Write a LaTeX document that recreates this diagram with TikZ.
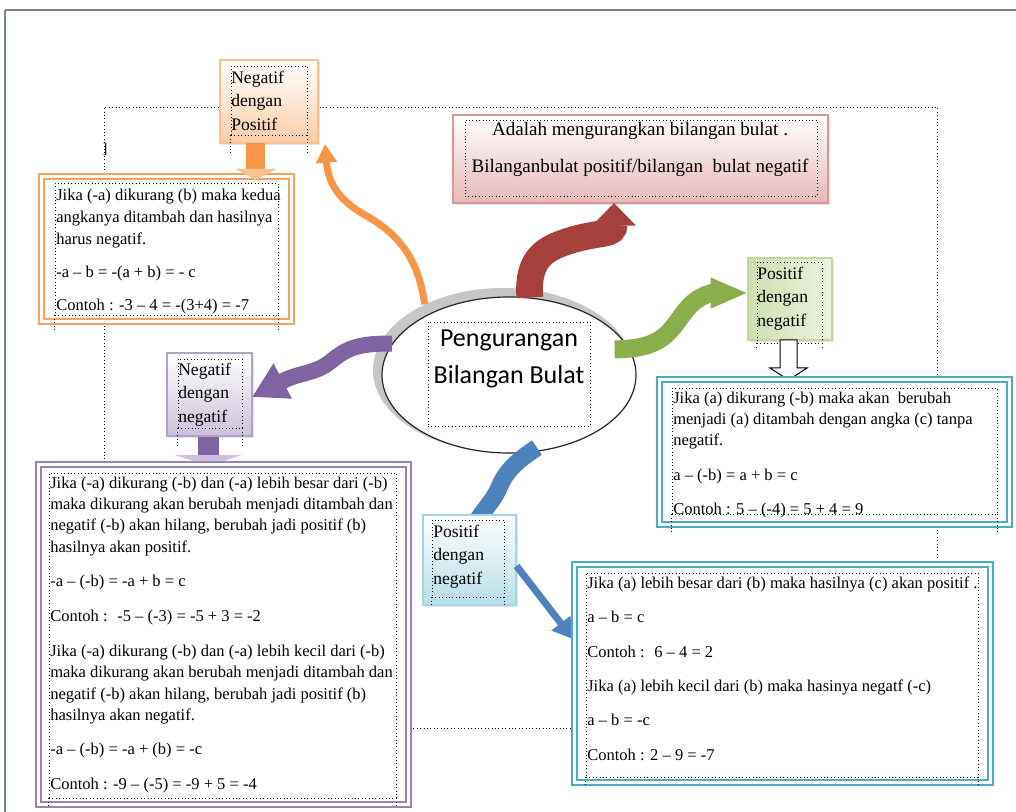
\documentclass[tikz,border=0pt]{standalone}
\usepackage{fontspec}
\setmainfont{Liberation Serif}
\newfontfamily\calib{Carlito}
\usetikzlibrary{calc,fit,arrows.meta,shadows,shapes.geometric}
\definecolor{orA}{HTML}{F79646}
\definecolor{orL}{HTML}{FAC090}
\definecolor{orD}{HTML}{F8A15A}
\definecolor{pkB}{HTML}{D99694}
\definecolor{pkF}{HTML}{E6B9B8}
\definecolor{rdA}{HTML}{A5403D}
\definecolor{gnA}{HTML}{8AAE4C}
\definecolor{gnF}{HTML}{CFDFB0}
\definecolor{gnB}{HTML}{C3D69B}
\definecolor{tlA}{HTML}{4BACC6}
\definecolor{lbF}{HTML}{B7DEE8}
\definecolor{lbB}{HTML}{A5D5E2}
\definecolor{blA}{HTML}{4F81BD}
\definecolor{puA}{HTML}{8064A2}
\definecolor{puL}{HTML}{9983B5}
\definecolor{puF}{HTML}{CCC1DA}
\definecolor{puB}{HTML}{B3A2C7}
\definecolor{frG}{HTML}{7F7F7F}
\definecolor{frB}{HTML}{6F86A8}
\begin{document}
\begin{tikzpicture}[x=0.75pt,y=-0.75pt,
  lblbox/.style={inner sep=0, line width=0.9pt, drop shadow={shadow xshift=1.2pt, shadow yshift=-1.2pt, opacity=0.2}},
  dblbox/.style={inner sep=0, fill=white, double, double distance=2.2pt, line width=1.5pt},
  dotbox/.style={inner sep=0, draw=black, dotted, line width=0.55pt},
  body/.style={anchor=north west, align=left, inner sep=0, font=\fontsize{12.4}{16}\selectfont},
  lbl/.style={anchor=north west, align=left, inner sep=0, font=\fontsize{13.2}{17.6}\selectfont},
  ext/.style={dotted, line width=0.55pt}]
\useasboundingbox (0,0) rectangle (1016,812);
\fill[white] (0,0) rectangle (1016,812);
% page frame
\draw[frG, line width=1.5pt] (5,10) -- (1016,10);
\draw[frB, line width=1.5pt] (5,10) -- (5,812);
% large dotted frame
\node[fit={(104,107) (937,728)}, dotbox] (frame) {};
\node[inner sep=0, font=\fontsize{11}{11}\selectfont] (brk) at (105,149) {]};

% central ellipse
\node[ellipse, fill=gray!45, minimum width=195pt, minimum height=123pt, inner sep=0] (ellsh) at (503,370) {};
% orange curved arrow (behind the ellipse)
\coordinate (otip) at (325,144);
\draw[orA, line width=5.25pt, -{Triangle[length=14pt, width=15pt]}] (ellsh.140) .. controls (418,255) and (395,232) .. (365,215) .. controls (338,200) and (328,182) .. (otip);
\node[ellipse, draw=black!85, line width=0.9pt, fill=white, minimum width=190.5pt, minimum height=117pt, inner sep=0] (ell) at (509,375) {};
\node[fit={(428,322) (590,426)}, dotbox] (ctb) {};
\node[inner sep=0, align=center, font=\calib\fontsize{19.5}{27.75}\selectfont, anchor=north] (ctxt) at (509,320) {\strut Pengurangan\\Bilangan Bulat};

% pink top box
\node[fit={(453,115) (828,203)}, lblbox, draw=pkB, top color=white, bottom color=pkF] (pink) {};
\node[fit={(465,120) (817,196)}, dotbox] (pinktb) {};
\node[inner sep=0, anchor=base, font=\fontsize{14.3}{16}\selectfont] (pinkt1) at (640,136) {Adalah mengurangkan bilangan bulat .};
\node[inner sep=0, anchor=base, font=\fontsize{14.3}{16}\selectfont] (pinkt2) at (640,173) {Bilanganbulat positif/bilangan~ bulat negatif};
% red arrow
\coordinate (rtip) at (614,203);
\draw[rdA, line width=20pt, -{Triangle[length=17pt, width=32pt]}] (ell.75) .. controls (527,258) and (545,248) .. (572,240) .. controls (603,231) and (614,236) .. (rtip);

% orange label box and text box
\node[fit={(220,60) (318,143)}, lblbox, draw=orL, top color=white, bottom color=orL!80] (nnp) {};
\node[fit={(231,66) (307,135)}, dotbox] (nnptb) {};
\draw[ext] (nnptb.south west) -- ++(0,18) (nnptb.south east) -- ++(0,18);
\node[lbl] (nnpt) at (231,66.6) {\strut Negatif\\dengan\\Positif};
\node[fit={(41.5,176.5) (291.5,321.5)}, dblbox, draw=orD] (obox) {};
\node[fit={(55,183) (278,315)}, dotbox] (oboxtb) {};
\draw[ext] (oboxtb.south west) -- ++(0,14) (oboxtb.south east) -- ++(0,14);
\node[body, font=\fontsize{12.4}{16.5}\selectfont] (obt) at (56,184.6) {\strut Jika (-a) dikurang (b) maka kedua\\angkanya ditambah dan hasilnya\\harus negatif.\\[8.3pt]-a – b = -(a + b) = - c\\[8.3pt]Contoh : -3 – 4 = -(3+4) = -7};
% orange block arrow
\coordinate (oa) at (255.5,143);
\fill[orA] (246,143) -- (265,143) -- (265,169) -- (246,169) -- cycle;
\fill[orL] (236,169) -- (276,169) -- (255.5,180) -- cycle;

% green label box
\node[fit={(748,258) (832,340)}, lblbox, draw=gnB, left color=gnF, right color=gnF!40] (gbox) {};
\node[fit={(757,262) (822,343)}, dotbox] (gboxtb) {};
\draw[ext] (gboxtb.south west) -- ++(0,6) (gboxtb.south east) -- ++(0,6);
\node[lbl] (gt) at (757,262.6) {\strut Positif\\dengan\\negatif};
% green arrow
\coordinate (gtip) at (748,293);
\draw[gnA, line width=13.5pt, -{Triangle[length=28pt, width=21pt]}] ($(ell.12)+(-15,0)$) .. controls (665,349) and (670,330) .. (686,310) .. controls (698,295) and (712,293) .. (gtip);
% white block arrow
\filldraw[fill=white, draw=black, line width=0.75pt] (780,340) -- (797,340) -- (797,368) -- (807,368) -- (788.5,380) -- (770,368) -- (780,368) -- cycle;
% teal right box
\node[fit={(659.5,379.5) (1009.5,524.5)}, dblbox, draw=tlA] (tbox1) {};
\node[fit={(672,388) (997,514)}, dotbox] (tbox1tb) {};
\draw[ext] (tbox1tb.south west) -- ++(0,18) (tbox1tb.south east) -- ++(0,18);
\node[body, font=\fontsize{12.4}{15.75}\selectfont] (t1t) at (673,388.3) {\strut Jika (a) dikurang (-b) maka akan~ berubah\\menjadi (a) ditambah dengan angka (c) tanpa\\negatif.\\[10.5pt]a – (-b) = a + b = c\\[10pt]Contoh : 5 – (-4) = 5 + 4 = 9};

% purple arrow and box
\node[fit={(167,353) (252,436)}, lblbox, draw=puB, top color=white, bottom color=puF] (pbox) {};
\node[fit={(178,359) (242,428)}, dotbox] (pboxtb) {};
\draw[ext] (pboxtb.south west) -- ++(0,19) (pboxtb.south east) -- ++(0,19);
\node[lbl] (pt) at (178,358.6) {\strut Negatif\\dengan\\negatif};
\coordinate (ptip) at (252,397);
\draw[puA, line width=12pt, -{Triangle[length=26pt, width=28pt]}] (ell.165) .. controls (355,343) and (345,350) .. (330,362) .. controls (315,374) and (300,372) .. (ptip);
\fill[puA] (198,437) -- (219,437) -- (219,455) -- (198,455) -- cycle;
\fill[puF] (175,455) -- (242,455) -- (208.5,466) -- cycle;
\node[fit={(38.5,464.5) (408.5,804.5)}, dblbox, draw=puL] (pbig) {};
\node[fit={(49,473) (396,798)}, dotbox] (pbigtb) {};
\draw[ext] (pbigtb.south west) -- ++(0,10) (pbigtb.south east) -- ++(0,10);
\node[body] (pbt) at (50,473.1) {\strut Jika (-a) dikurang (-b) dan (-a) lebih besar dari (-b)\\maka dikurang akan berubah menjadi ditambah dan\\negatif (-b) akan hilang, berubah jadi positif (b)\\hasilnya akan positif.\\[9.75pt]-a – (-b) = -a + b = c\\[10pt]Contoh :~ -5 – (-3) = -5 + 3 = -2\\[10.5pt]Jika (-a) dikurang (-b) dan (-a) lebih kecil dari (-b)\\maka dikurang akan berubah menjadi ditambah dan\\negatif (-b) akan hilang, berubah jadi positif (b)\\hasilnya akan negatif.\\[9.75pt]-a – (-b) = -a + (b) = -c\\[9.75pt]Contoh : -9 – (-5) = -9 + 5 = -4};

% blue arrows and light blue box
\coordinate (bwend) at (472,528);
\draw[blA, line width=13pt] ($(ell.-70)+(0,-4)$) .. controls (515,462) and (505,472) .. (498,490) .. controls (492,502) and (485,508) .. (bwend);
\node[fit={(423,515) (516,605)}, lblbox, draw=lbB, top color=white, bottom color=lbF] (lbbox) {};
\node[fit={(432,520) (504,597)}, dotbox] (lbboxtb) {};
\draw[ext] (lbboxtb.south west) -- ++(0,10) (lbboxtb.south east) -- ++(0,10);
\node[lbl] (lbt) at (433,520.6) {\strut Positif\\dengan\\negatif};
\coordinate (btip) at (573,639);
\draw[blA, line width=5.25pt, -{Triangle[length=15pt, width=17pt]}] ($(lbbox.east)+(0,6)$) -- (btip);
% teal lower box
\node[fit={(574.5,564.5) (990.5,782.5)}, dblbox, draw=tlA] (tbox2) {};
\node[fit={(586,573) (978,777)}, dotbox] (tbox2tb) {};
\draw[ext] (tbox2tb.south west) -- ++(0,8) (tbox2tb.south east) -- ++(0,8);
\node[body] (t2t) at (587,573.1) {\strut Jika (a) lebih besar dari (b) maka hasilnya (c) akan positif .\\[9.8pt]a – b = c\\[9.8pt]Contoh :~ 6 – 4 = 2\\[9.8pt]Jika (a) lebih kecil dari (b) maka hasinya negatf (-c)\\[9.8pt]a – b = -c\\[9.8pt]Contoh : 2 – 9 = -7};
\end{tikzpicture}
\end{document}
